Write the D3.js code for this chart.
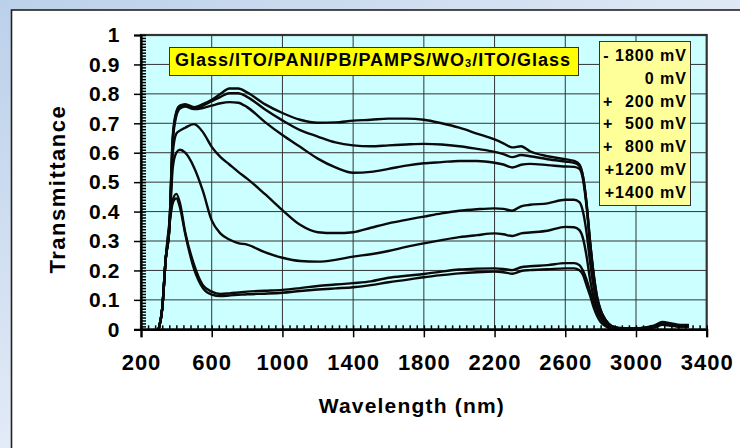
<!DOCTYPE html>
<html>
<head>
<meta charset="utf-8">
<script src="https://cdn.jsdelivr.net/npm/d3@7"></script>
<style>
  body { margin: 0; }
  svg { display: block; font-family: "Liberation Sans", Arial, sans-serif; font-weight: bold; }
</style>
</head>
<body>
<div id="chart"></div>
<script>
// wavelength grid (nm) shared by all spectra
var wavelength = [300, 320, 340, 360, 380, 400, 420, 450, 500, 550, 600, 650, 700, 750, 800, 900,
  1000, 1100, 1200, 1300, 1400, 1500, 1600, 1700, 1800, 1900, 2000, 2100, 2200, 2250, 2300, 2350,
  2400, 2500, 2600, 2650, 2680, 2700, 2720, 2740, 2760, 2780, 2800, 2830, 2860, 2900, 3000, 3100,
  3150, 3200, 3250, 3300];

// transmittance, one array per applied voltage
var tMinus1800 = [0, .07, .24, .34, .66, .74, .76, .765, .755, .765, .78, .80, .818, .818, .805, .765,
  .735, .712, .702, .703, .709, .712, .716, .716, .712, .70, .685, .665, .645, .632, .618, .622,
  .605, .588, .578, .572, .56, .52, .43, .30, .19, .11, .065, .03, .012, .005, .003, .012,
  .025, .02, .015, .015];
var t0 = [0, .07, .24, .34, .65, .735, .755, .76, .75, .76, .775, .79, .802, .802, .79, .748,
  .71, .677, .655, .635, .625, .622, .625, .628, .63, .628, .622, .613, .603, .595, .585, .592,
  .588, .578, .57, .566, .555, .52, .43, .30, .19, .11, .065, .03, .012, .005, .003, .01,
  .022, .018, .012, .013];
var t200 = [0, .07, .24, .34, .64, .725, .75, .757, .748, .752, .76, .768, .772, .77, .755, .705,
  .66, .62, .58, .55, .532, .535, .545, .556, .564, .568, .572, .572, .566, .56, .55, .559,
  .562, .558, .553, .552, .545, .51, .42, .29, .18, .10, .06, .025, .01, .004, .003, .01,
  .02, .017, .012, .012];
var t500 = [0, .07, .24, .34, .60, .665, .675, .685, .697, .67, .62, .585, .56, .535, .512, .46,
  .405, .355, .33, .327, .33, .345, .36, .372, .383, .394, .403, .408, .411, .409, .403, .418,
  .423, .428, .44, .44, .432, .40, .33, .23, .145, .085, .05, .02, .008, .004, .003, .008,
  .02, .015, .01, .01];
var t800 = [0, .07, .24, .34, .55, .60, .61, .60, .55, .47, .37, .325, .305, .293, .288, .262,
  .243, .232, .23, .236, .247, .255, .266, .28, .292, .303, .313, .32, .326, .323, .317, .326,
  .329, .335, .348, .347, .337, .31, .25, .17, .11, .065, .04, .015, .006, .003, .003, .007,
  .018, .014, .01, .01];
var t1200 = [0, .07, .24, .36, .44, .46, .43, .33, .22, .15, .128, .12, .122, .125, .128, .131,
  .134, .14, .147, .152, .157, .163, .175, .182, .188, .196, .203, .206, .207, .205, .201, .211,
  .214, .218, .225, .225, .218, .20, .17, .13, .095, .06, .038, .016, .006, .003, .003, .007,
  .016, .013, .01, .01];
var t1400 = [0, .07, .24, .35, .43, .445, .415, .325, .205, .14, .118, .113, .115, .117, .119, .121,
  .124, .13, .135, .139, .143, .15, .16, .168, .177, .184, .19, .194, .196, .194, .189, .198,
  .201, .204, .207, .207, .201, .185, .15, .115, .075, .045, .025, .01, .004, .003, .003, .006,
  .015, .012, .009, .009];

var voltages = ["- 1800 mV", "0 mV", "+  200 mV", "+  500 mV", "+  800 mV", "+1200 mV", "+1400 mV"];
var xTicks = [200, 600, 1000, 1400, 1800, 2200, 2600, 3000, 3400];
var yTicks = [0, 0.1, 0.2, 0.3, 0.4, 0.5, 0.6, 0.7, 0.8, 0.9, 1];
var cellTitle = ["Glass/ITO/PANI/PB/PAMPS/WO", "3", "/ITO/Glass"];

var series = [tMinus1800, t0, t200, t500, t800, t1200, t1400];

var W = 740, H = 448;
var margin = {top: 35, left: 141},
    width = 565.7,
    height = 294.3;

var svg = d3.select("#chart").append("svg")
    .attr("width", W)
    .attr("height", H);

// slide background
var defs = svg.append("defs");
var grad = defs.append("linearGradient").attr("id", "bg")
    .attr("gradientUnits", "userSpaceOnUse")
    .attr("x1", 0).attr("y1", 0).attr("x2", 250).attr("y2", 448);
grad.append("stop").attr("offset", "0%").attr("stop-color", "#bbd0ea");
grad.append("stop").attr("offset", "100%").attr("stop-color", "#eef3fa");
svg.append("rect").attr("width", W).attr("height", H).attr("fill", "url(#bg)");

// white panel, runs off the right and bottom
svg.append("rect")
    .attr("x", 11.5).attr("y", 10)
    .attr("width", W).attr("height", H)
    .attr("fill", "#fff").attr("stroke", "#222").attr("stroke-width", 1.6);

var x = d3.scaleLinear().domain([200, 3400]).range([0, width]);
var y = d3.scaleLinear().domain([0, 1]).range([height, 0]);

var g = svg.append("g").attr("transform", "translate(" + margin.left + "," + margin.top + ")");

g.append("rect").attr("width", width).attr("height", height).attr("fill", "#ccffff");

// grid
g.selectAll(".hgrid").data(yTicks.filter(function(d) { return d > 0 && d < 1; }))
  .enter().append("line")
    .attr("x1", 0).attr("x2", width)
    .attr("y1", function(d) { return y(d); }).attr("y2", function(d) { return y(d); })
    .attr("stroke", "#333").attr("stroke-width", 1);
g.selectAll(".vgrid").data(xTicks.slice(1, -1))
  .enter().append("line")
    .attr("y1", 0).attr("y2", height)
    .attr("x1", function(d) { return x(d); }).attr("x2", function(d) { return x(d); })
    .attr("stroke", "#333").attr("stroke-width", 1);

g.append("rect").attr("width", width).attr("height", height)
    .attr("fill", "none").attr("stroke", "#333").attr("stroke-width", 2.2);

// spectra
var line = d3.line()
    .x(function(d, i) { return x(wavelength[i]); })
    .y(function(d) { return y(d); })
    .curve(d3.curveMonotoneX);

g.selectAll(".spectrum").data(series)
  .enter().append("path")
    .attr("d", line)
    .attr("fill", "none")
    .attr("stroke", "#0a0a0a")
    .attr("stroke-width", 2.4)
    .attr("stroke-linejoin", "round");

// axes
var yAxis = g.append("g")
    .call(d3.axisLeft(y).tickValues(yTicks).tickSize(7).tickPadding(14)
      .tickFormat(function(d) { return d === 0 || d === 1 ? d3.format("d")(d) : d3.format(".1f")(d); }));
g.append("g")
    .call(d3.axisRight(y).tickValues(d3.range(0, 101).map(function(i) { return i / 100; })).tickSize(5).tickFormat(""))
    .call(function(s) { s.select(".domain").remove(); });

var xAxis = g.append("g").attr("transform", "translate(0," + height + ")")
    .call(d3.axisBottom(x).tickValues(xTicks).tickSize(8).tickPadding(17).tickFormat(d3.format("d")));
g.append("g").attr("transform", "translate(0," + height + ")")
    .call(d3.axisTop(x).tickValues(d3.range(200, 3401, 40)).tickSize(4).tickFormat(""))
    .call(function(s) { s.select(".domain").remove(); });

g.selectAll(".tick line").attr("stroke", "#000").attr("stroke-width", 1.5);
yAxis.select(".domain").attr("stroke", "#000").attr("stroke-width", 2.2);
xAxis.select(".domain").attr("stroke", "#000").attr("stroke-width", 2.2);

yAxis.selectAll("text")
    .attr("font-size", 21).attr("font-family", "Liberation Sans, Arial, sans-serif")
    .attr("font-weight", "bold").attr("fill", "#000").attr("letter-spacing", 0.6);
xAxis.selectAll("text")
    .attr("font-size", 22).attr("font-family", "Liberation Sans, Arial, sans-serif")
    .attr("font-weight", "bold").attr("fill", "#000").attr("letter-spacing", 1);

// axis titles
svg.append("text")
    .attr("transform", "translate(65," + (margin.top + height / 2 + 7) + ") rotate(-90)")
    .attr("text-anchor", "middle")
    .attr("font-size", 22).attr("letter-spacing", 1.5)
    .text("Transmittance");

svg.append("text")
    .attr("x", margin.left + width / 2 - 12).attr("y", 413)
    .attr("text-anchor", "middle")
    .attr("font-size", 21).attr("letter-spacing", 1.2)
    .text("Wavelength (nm)");

// device label
svg.append("rect")
    .attr("x", 169.5).attr("y", 47.5).attr("width", 409).attr("height", 28)
    .attr("fill", "#ffff00").attr("stroke", "#333").attr("stroke-width", 1);
var title = svg.append("text")
    .attr("x", 175).attr("y", 66)
    .attr("font-size", 18)
    .attr("textLength", 395).attr("lengthAdjust", "spacing");
title.append("tspan").text(cellTitle[0]);
title.append("tspan").attr("font-size", 11).attr("dy", 1).text(cellTitle[1]);
title.append("tspan").attr("dy", -1).text(cellTitle[2]);

// voltage legend
svg.append("rect")
    .attr("x", 599.5).attr("y", 41.5).attr("width", 91).attr("height", 164)
    .attr("fill", "#ffff99").attr("stroke", "#333").attr("stroke-width", 1);
var leg = svg.selectAll(".vlabel").data(voltages).enter().append("g")
    .attr("transform", function(d, i) { return "translate(0," + (60.7 + i * 22.93) + ")"; });
leg.append("text")
    .attr("x", 687).attr("text-anchor", "end")
    .attr("font-size", 16).attr("letter-spacing", 1)
    .text(function(d) { return d.indexOf("+  ") === 0 ? d.slice(3) : d; });
leg.filter(function(d) { return d.indexOf("+  ") === 0; }).append("text")
    .attr("x", 603)
    .attr("font-size", 16)
    .text("+");
</script>
</body>
</html>
